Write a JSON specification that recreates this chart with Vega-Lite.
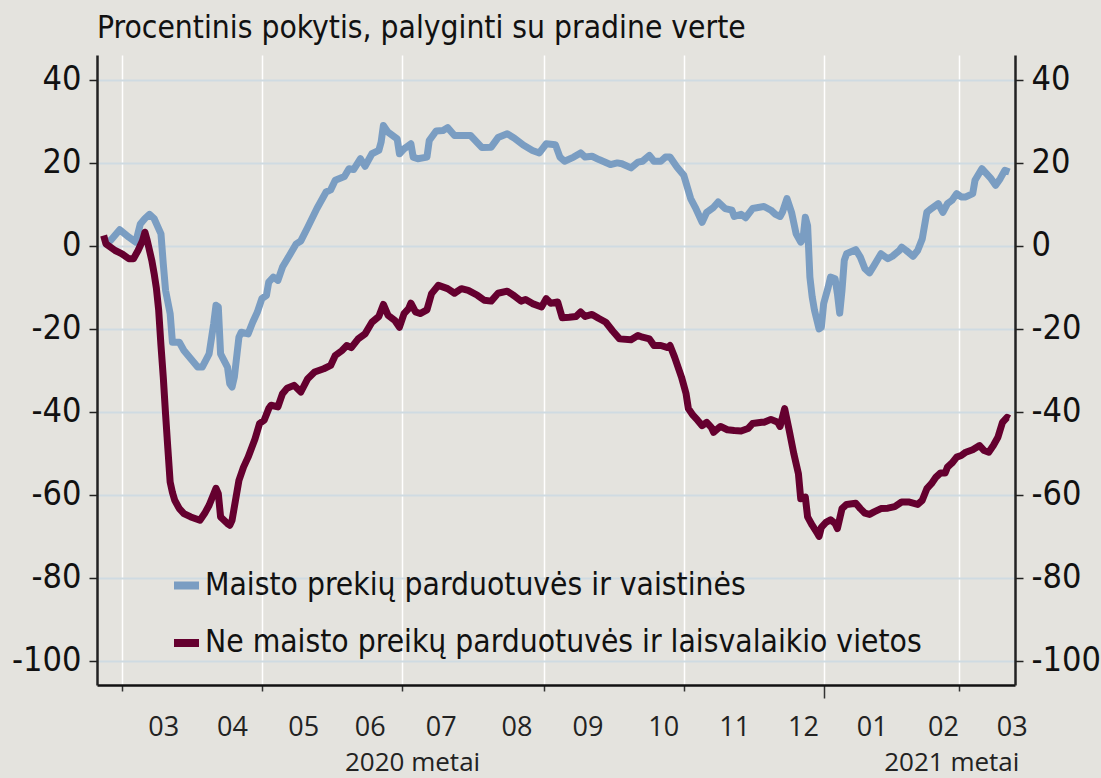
{
  "$schema": "https://vega.github.io/schema/vega-lite/v6.json",
  "width": 918,
  "height": 630,
  "autosize": {"type": "none"},
  "padding": {"left": 97, "top": 55, "right": 86, "bottom": 93},
  "background": "#e4e3de",
  "config": {"view": {"stroke": null}},
  "title": {
    "text": "Procentinis pokytis, palyginti su pradine verte",
    "anchor": "start",
    "frame": "group",
    "baseline": "top",
    "offset": 11,
    "font": "DejaVu Sans Condensed",
    "fontSize": 31.5,
    "fontWeight": "normal",
    "color": "#111111"
  },
  "datasets": {
    "food": [
      {"d":"2020-02-22","v":0.9},{"d":"2020-02-25","v":1.3},{"d":"2020-02-29","v":3.9},{"d":"2020-03-04","v":2.1},
      {"d":"2020-03-07","v":0.9},{"d":"2020-03-09","v":5.3},{"d":"2020-03-11","v":6.6},{"d":"2020-03-13","v":7.6},
      {"d":"2020-03-15","v":6.6},{"d":"2020-03-18","v":2.9},{"d":"2020-03-19","v":-4.3},{"d":"2020-03-20","v":-10.7},
      {"d":"2020-03-22","v":-16.3},{"d":"2020-03-23","v":-23.2},{"d":"2020-03-26","v":-23.2},{"d":"2020-03-28","v":-25.2},
      {"d":"2020-03-31","v":-27.2},{"d":"2020-04-03","v":-29.2},{"d":"2020-04-05","v":-29.2},{"d":"2020-04-08","v":-26},
      {"d":"2020-04-10","v":-18.7},{"d":"2020-04-11","v":-14.3},{"d":"2020-04-12","v":-14.7},{"d":"2020-04-13","v":-26},
      {"d":"2020-04-16","v":-29.2},{"d":"2020-04-17","v":-33.2},{"d":"2020-04-18","v":-34},{"d":"2020-04-19","v":-31.6},
      {"d":"2020-04-21","v":-22},{"d":"2020-04-22","v":-20.8},{"d":"2020-04-25","v":-21.2},{"d":"2020-04-27","v":-18.4},
      {"d":"2020-04-29","v":-16},{"d":"2020-05-01","v":-12.7},{"d":"2020-05-03","v":-11.9},{"d":"2020-05-04","v":-8.7},
      {"d":"2020-05-06","v":-7.5},{"d":"2020-05-08","v":-8.3},{"d":"2020-05-10","v":-5.1},{"d":"2020-05-13","v":-2.3},
      {"d":"2020-05-16","v":0.5},{"d":"2020-05-18","v":1.2},{"d":"2020-05-21","v":4.5},{"d":"2020-05-25","v":9.0},
      {"d":"2020-05-29","v":13.0},{"d":"2020-05-31","v":13.5},{"d":"2020-06-02","v":15.8},{"d":"2020-06-06","v":16.7},
      {"d":"2020-06-08","v":18.6},{"d":"2020-06-10","v":18.4},{"d":"2020-06-13","v":21.0},{"d":"2020-06-15","v":19.2},
      {"d":"2020-06-18","v":22.2},{"d":"2020-06-21","v":23.0},{"d":"2020-06-22","v":25.0},{"d":"2020-06-23","v":29.0},
      {"d":"2020-06-25","v":27.4},{"d":"2020-06-29","v":25.8},{"d":"2020-06-30","v":22.2},{"d":"2020-07-02","v":23.4},
      {"d":"2020-07-05","v":24.6},{"d":"2020-07-06","v":21.4},{"d":"2020-07-08","v":21.0},{"d":"2020-07-12","v":21.4},
      {"d":"2020-07-13","v":25.4},{"d":"2020-07-16","v":27.7},{"d":"2020-07-19","v":27.8},{"d":"2020-07-21","v":28.5},
      {"d":"2020-07-24","v":26.6},{"d":"2020-07-29","v":26.6},{"d":"2020-07-31","v":26.6},{"d":"2020-08-05","v":23.7},
      {"d":"2020-08-09","v":23.8},{"d":"2020-08-12","v":26.1},{"d":"2020-08-16","v":27.0},{"d":"2020-08-19","v":26.0},
      {"d":"2020-08-23","v":24.3},{"d":"2020-08-27","v":23.0},{"d":"2020-08-30","v":22.4},{"d":"2020-09-02","v":24.6},
      {"d":"2020-09-06","v":24.4},{"d":"2020-09-08","v":21.4},{"d":"2020-09-10","v":20.4},{"d":"2020-09-14","v":21.4},
      {"d":"2020-09-17","v":22.4},{"d":"2020-09-19","v":21.4},{"d":"2020-09-22","v":21.6},{"d":"2020-09-25","v":20.8},
      {"d":"2020-09-30","v":19.6},{"d":"2020-10-03","v":20.0},{"d":"2020-10-05","v":19.8},{"d":"2020-10-09","v":18.8},
      {"d":"2020-10-12","v":20.2},{"d":"2020-10-14","v":20.4},{"d":"2020-10-17","v":21.8},{"d":"2020-10-19","v":20.4},
      {"d":"2020-10-22","v":20.4},{"d":"2020-10-24","v":21.4},{"d":"2020-10-26","v":21.4},{"d":"2020-10-29","v":19.0},
      {"d":"2020-11-01","v":17.0},{"d":"2020-11-04","v":11.4},{"d":"2020-11-06","v":9.3},{"d":"2020-11-09","v":5.7},
      {"d":"2020-11-11","v":8.1},{"d":"2020-11-14","v":9.3},{"d":"2020-11-16","v":10.6},{"d":"2020-11-19","v":9.0},
      {"d":"2020-11-22","v":8.6},{"d":"2020-11-23","v":7.1},{"d":"2020-11-26","v":7.6},{"d":"2020-11-28","v":6.8},
      {"d":"2020-12-01","v":9.0},{"d":"2020-12-06","v":9.5},{"d":"2020-12-09","v":8.6},{"d":"2020-12-11","v":7.6},
      {"d":"2020-12-13","v":7.1},{"d":"2020-12-14","v":8.1},{"d":"2020-12-16","v":11.4},{"d":"2020-12-18","v":8.1},
      {"d":"2020-12-20","v":2.9},{"d":"2020-12-22","v":0.9},{"d":"2020-12-23","v":1.7},{"d":"2020-12-24","v":6.9},
      {"d":"2020-12-25","v":4.9},{"d":"2020-12-26","v":-7.5},{"d":"2020-12-27","v":-12.3},{"d":"2020-12-28","v":-15.5},
      {"d":"2020-12-30","v":-20.0},{"d":"2020-12-31","v":-19.6},{"d":"2021-01-01","v":-13.9},{"d":"2021-01-03","v":-9.9},
      {"d":"2021-01-04","v":-7.5},{"d":"2021-01-06","v":-7.9},{"d":"2021-01-07","v":-11.5},{"d":"2021-01-08","v":-16.2},
      {"d":"2021-01-09","v":-10.7},{"d":"2021-01-10","v":-3.5},{"d":"2021-01-11","v":-1.9},{"d":"2021-01-15","v":-0.9},
      {"d":"2021-01-17","v":-2.7},{"d":"2021-01-19","v":-5.5},{"d":"2021-01-21","v":-6.5},{"d":"2021-01-23","v":-4.7},
      {"d":"2021-01-26","v":-1.9},{"d":"2021-01-29","v":-3.1},{"d":"2021-01-31","v":-2.5},{"d":"2021-02-03","v":-1.1},
      {"d":"2021-02-04","v":-0.3},{"d":"2021-02-06","v":-1.1},{"d":"2021-02-09","v":-2.5},{"d":"2021-02-11","v":-1.1},
      {"d":"2021-02-13","v":1.7},{"d":"2021-02-15","v":8.1},{"d":"2021-02-17","v":9.0},{"d":"2021-02-20","v":10.2},
      {"d":"2021-02-22","v":8.1},{"d":"2021-02-24","v":10.2},{"d":"2021-02-26","v":11.0},{"d":"2021-02-28","v":12.6},
      {"d":"2021-03-02","v":11.8},{"d":"2021-03-04","v":11.8},{"d":"2021-03-07","v":12.6},{"d":"2021-03-08","v":15.8},
      {"d":"2021-03-11","v":18.6},{"d":"2021-03-13","v":17.4},{"d":"2021-03-15","v":16.2},{"d":"2021-03-17","v":14.6},
      {"d":"2021-03-19","v":16.2},{"d":"2021-03-21","v":18.2},{"d":"2021-03-23","v":17.8}
    ],
    "nonfood": [
      {"d":"2020-02-22","v":2.5},{"d":"2020-02-23","v":0.5},{"d":"2020-02-27","v":-1.1},{"d":"2020-03-01","v":-1.9},
      {"d":"2020-03-04","v":-3.1},{"d":"2020-03-06","v":-3.1},{"d":"2020-03-08","v":-1.1},{"d":"2020-03-10","v":1.3},
      {"d":"2020-03-11","v":3.3},{"d":"2020-03-12","v":1.3},{"d":"2020-03-14","v":-3.5},{"d":"2020-03-15","v":-6.6},
      {"d":"2020-03-16","v":-10.2},{"d":"2020-03-17","v":-15.5},{"d":"2020-03-18","v":-24},{"d":"2020-03-19","v":-31.6},
      {"d":"2020-03-20","v":-40.5},{"d":"2020-03-21","v":-48.8},{"d":"2020-03-22","v":-56.9},{"d":"2020-03-23","v":-59.4},
      {"d":"2020-03-24","v":-61.3},{"d":"2020-03-26","v":-63.3},{"d":"2020-03-28","v":-64.5},{"d":"2020-03-31","v":-65.3},
      {"d":"2020-04-04","v":-66.1},{"d":"2020-04-06","v":-64.5},{"d":"2020-04-08","v":-62.5},{"d":"2020-04-11","v":-58.4},
      {"d":"2020-04-12","v":-59.7},{"d":"2020-04-13","v":-65.3},{"d":"2020-04-16","v":-66.9},{"d":"2020-04-17","v":-67.3},
      {"d":"2020-04-18","v":-66.1},{"d":"2020-04-21","v":-56.5},{"d":"2020-04-23","v":-53.3},{"d":"2020-04-25","v":-50.9},
      {"d":"2020-04-28","v":-46.5},{"d":"2020-04-30","v":-42.8},{"d":"2020-05-02","v":-42.0},{"d":"2020-05-04","v":-39.2},
      {"d":"2020-05-05","v":-38.4},{"d":"2020-05-08","v":-38.8},{"d":"2020-05-10","v":-35.6},{"d":"2020-05-12","v":-34.3},
      {"d":"2020-05-15","v":-33.6},{"d":"2020-05-18","v":-35.2},{"d":"2020-05-21","v":-32.0},{"d":"2020-05-24","v":-30.4},
      {"d":"2020-05-28","v":-29.6},{"d":"2020-05-31","v":-28.8},{"d":"2020-06-02","v":-26.4},{"d":"2020-06-05","v":-25.2},
      {"d":"2020-06-07","v":-24.0},{"d":"2020-06-09","v":-24.5},{"d":"2020-06-12","v":-22.4},{"d":"2020-06-15","v":-21.2},
      {"d":"2020-06-18","v":-18.4},{"d":"2020-06-21","v":-17.0},{"d":"2020-06-23","v":-14.1},{"d":"2020-06-25","v":-16.7},
      {"d":"2020-06-28","v":-18.0},{"d":"2020-06-30","v":-19.6},{"d":"2020-07-02","v":-16.3},{"d":"2020-07-04","v":-15.1},
      {"d":"2020-07-05","v":-13.8},{"d":"2020-07-07","v":-15.9},{"d":"2020-07-09","v":-16.3},{"d":"2020-07-12","v":-15.4},
      {"d":"2020-07-14","v":-11.5},{"d":"2020-07-17","v":-9.5},{"d":"2020-07-21","v":-10.3},{"d":"2020-07-24","v":-11.4},
      {"d":"2020-07-27","v":-10.3},{"d":"2020-07-30","v":-10.7},{"d":"2020-08-03","v":-11.9},{"d":"2020-08-06","v":-13.1},
      {"d":"2020-08-09","v":-13.3},{"d":"2020-08-12","v":-11.4},{"d":"2020-08-16","v":-10.9},{"d":"2020-08-19","v":-12.0},
      {"d":"2020-08-22","v":-13.3},{"d":"2020-08-24","v":-12.9},{"d":"2020-08-27","v":-13.9},{"d":"2020-08-31","v":-14.7},
      {"d":"2020-09-02","v":-12.7},{"d":"2020-09-04","v":-13.8},{"d":"2020-09-07","v":-13.5},{"d":"2020-09-09","v":-17.3},
      {"d":"2020-09-12","v":-17.2},{"d":"2020-09-15","v":-17.0},{"d":"2020-09-17","v":-15.9},{"d":"2020-09-19","v":-17.0},
      {"d":"2020-09-22","v":-16.5},{"d":"2020-09-25","v":-17.5},{"d":"2020-09-28","v":-18.4},{"d":"2020-10-01","v":-20.5},
      {"d":"2020-10-04","v":-22.4},{"d":"2020-10-09","v":-22.6},{"d":"2020-10-12","v":-21.6},{"d":"2020-10-14","v":-22.0},
      {"d":"2020-10-17","v":-22.4},{"d":"2020-10-19","v":-24.0},{"d":"2020-10-22","v":-24.0},{"d":"2020-10-25","v":-24.5},
      {"d":"2020-10-26","v":-24.0},{"d":"2020-10-28","v":-26.8},{"d":"2020-10-31","v":-31.6},{"d":"2020-11-02","v":-35.6},
      {"d":"2020-11-03","v":-39.2},{"d":"2020-11-05","v":-40.8},{"d":"2020-11-07","v":-42.0},{"d":"2020-11-09","v":-43.3},
      {"d":"2020-11-11","v":-42.5},{"d":"2020-11-13","v":-43.7},{"d":"2020-11-14","v":-44.9},{"d":"2020-11-17","v":-43.5},
      {"d":"2020-11-20","v":-44.3},{"d":"2020-11-23","v":-44.5},{"d":"2020-11-26","v":-44.6},{"d":"2020-11-29","v":-44.0},
      {"d":"2020-12-01","v":-42.8},{"d":"2020-12-05","v":-42.5},{"d":"2020-12-06","v":-42.5},{"d":"2020-12-09","v":-41.8},
      {"d":"2020-12-12","v":-42.5},{"d":"2020-12-13","v":-43.5},{"d":"2020-12-15","v":-39.2},{"d":"2020-12-17","v":-44.5},
      {"d":"2020-12-19","v":-50.1},{"d":"2020-12-21","v":-54.9},{"d":"2020-12-22","v":-60.9},{"d":"2020-12-24","v":-60.5},
      {"d":"2020-12-25","v":-65.3},{"d":"2020-12-27","v":-67.3},{"d":"2020-12-29","v":-69.0},{"d":"2020-12-30","v":-70.0},
      {"d":"2020-12-31","v":-67.8},{"d":"2021-01-02","v":-66.6},{"d":"2021-01-04","v":-66.0},{"d":"2021-01-06","v":-66.9},
      {"d":"2021-01-07","v":-68.1},{"d":"2021-01-09","v":-63.3},{"d":"2021-01-11","v":-62.3},{"d":"2021-01-15","v":-62.0},
      {"d":"2021-01-17","v":-63.3},{"d":"2021-01-19","v":-64.4},{"d":"2021-01-21","v":-64.7},{"d":"2021-01-23","v":-64.1},
      {"d":"2021-01-26","v":-63.3},{"d":"2021-01-29","v":-63.2},{"d":"2021-02-01","v":-62.8},{"d":"2021-02-04","v":-61.7},
      {"d":"2021-02-07","v":-61.7},{"d":"2021-02-11","v":-62.3},{"d":"2021-02-13","v":-61.3},{"d":"2021-02-15","v":-58.5},
      {"d":"2021-02-17","v":-57.3},{"d":"2021-02-19","v":-55.7},{"d":"2021-02-21","v":-54.7},{"d":"2021-02-23","v":-54.7},
      {"d":"2021-02-24","v":-53.3},{"d":"2021-02-26","v":-52.3},{"d":"2021-02-28","v":-50.9},{"d":"2021-03-02","v":-50.5},
      {"d":"2021-03-04","v":-49.7},{"d":"2021-03-07","v":-49.1},{"d":"2021-03-10","v":-48.1},{"d":"2021-03-12","v":-49.3},
      {"d":"2021-03-14","v":-49.7},{"d":"2021-03-16","v":-48.1},{"d":"2021-03-18","v":-46.1},{"d":"2021-03-20","v":-42.5},
      {"d":"2021-03-22","v":-41.3},{"d":"2021-03-23","v":-41.6}
    ]
  },
  "resolve": {"axis": {"x": "independent", "y": "independent"}},
  "layer": [
    {
      "data": {"name": "food"},
      "mark": {"type": "line", "strokeWidth": 7, "strokeJoin": "round"},
      "encoding": {
        "x": {
          "field": "d", "type": "temporal",
          "scale": {"domain": [
            {"year": 2020, "month": 2, "date": 19, "hours": 2, "minutes": 24, "utc": true},
            {"year": 2021, "month": 3, "date": 25, "hours": 10, "minutes": 48, "utc": true}
          ]},
          "axis": {
            "orient": "bottom", "title": null, "labels": false,
            "values": [
              {"year": 2020, "month": 3, "date": 1, "utc": true},
              {"year": 2020, "month": 5, "date": 1, "utc": true},
              {"year": 2020, "month": 7, "date": 1, "utc": true},
              {"year": 2020, "month": 9, "date": 1, "utc": true},
              {"year": 2020, "month": 11, "date": 1, "utc": true},
              {"year": 2021, "month": 1, "date": 1, "utc": true},
              {"year": 2021, "month": 3, "date": 1, "utc": true}
            ],
            "grid": true, "gridColor": "#ffffff", "gridWidth": 1.5,
            "tickColor": "#333333", "tickWidth": 1.5,
            "tickSize": {"condition": {"test": "utcmonth(datum.value) == 0", "value": 13}, "value": 6},
            "domainColor": "#111111", "domainWidth": 2.5
          }
        },
        "y": {
          "field": "v", "type": "quantitative",
          "scale": {"domain": [-105.8, 46], "nice": false, "zero": false},
          "axis": {
            "orient": "left", "title": null,
            "values": [-100, -80, -60, -40, -20, 0, 20, 40],
            "labelExpr": "'' + datum.value",
            "grid": true, "gridColor": "#cfdbe2", "gridWidth": 2,
            "tickSize": 8, "tickColor": "#222222", "tickWidth": 1.5,
            "domainColor": "#222222", "domainWidth": 2.5,
            "labelFont": "DejaVu Sans Condensed", "labelFontSize": 34, "labelColor": "#111111", "labelPadding": 8
          }
        },
        "color": {
          "datum": "Maisto prekių parduotuvės ir vaistinės",
          "scale": {
            "domain": ["Maisto prekių parduotuvės ir vaistinės", "Ne maisto preikų parduotuvės ir laisvalaikio vietos"],
            "range": ["#7a9dc2", "#65002f"]
          },
          "legend": {
            "orient": "none", "legendX": 73, "legendY": 514, "title": null, "padding": 0,
            "symbolType": "stroke", "symbolStrokeWidth": 8, "symbolSize": 625,
            "labelFont": "DejaVu Sans Condensed", "labelFontSize": 31.5, "labelColor": "#111111",
            "labelLimit": 1000, "rowPadding": 24.5, "labelOffset": 2
          }
        }
      }
    },
    {
      "data": {"name": "nonfood"},
      "mark": {"type": "line", "strokeWidth": 7, "strokeJoin": "round"},
      "encoding": {
        "x": {
          "field": "d", "type": "temporal",
          "axis": {
            "orient": "bottom", "title": null, "grid": false, "ticks": false, "domain": false,
            "values": [
              {"year": 2020, "month": 3, "date": 19, "utc": true},
              {"year": 2020, "month": 4, "date": 18, "utc": true},
              {"year": 2020, "month": 5, "date": 19, "utc": true},
              {"year": 2020, "month": 6, "date": 17, "utc": true},
              {"year": 2020, "month": 7, "date": 18, "utc": true},
              {"year": 2020, "month": 8, "date": 20, "utc": true},
              {"year": 2020, "month": 9, "date": 20, "utc": true},
              {"year": 2020, "month": 10, "date": 23, "utc": true},
              {"year": 2020, "month": 11, "date": 23, "utc": true},
              {"year": 2020, "month": 12, "date": 23, "utc": true},
              {"year": 2021, "month": 1, "date": 22, "utc": true},
              {"year": 2021, "month": 2, "date": 22, "utc": true},
              {"year": 2021, "month": 3, "date": 24, "utc": true}
            ],
            "labelExpr": "utcFormat(datum.value, '%m')",
            "labelFont": "Open Sans", "labelFontSize": 27, "labelColor": "#222222",
            "labelPadding": 29, "labelOverlap": false, "labelFlush": false
          }
        },
        "y": {
          "field": "v", "type": "quantitative",
          "axis": {
            "orient": "right", "title": null, "grid": false,
            "values": [-100, -80, -60, -40, -20, 0, 20, 40],
            "labelExpr": "'' + datum.value",
            "tickSize": 8, "tickColor": "#222222", "tickWidth": 1.5,
            "domainColor": "#222222", "domainWidth": 2.5,
            "labelFont": "DejaVu Sans Condensed", "labelFontSize": 34, "labelColor": "#111111", "labelPadding": 8
          }
        },
        "color": {"datum": "Ne maisto preikų parduotuvės ir laisvalaikio vietos"}
      }
    },
    {
      "data": {"name": "food"},
      "mark": {"type": "line", "opacity": 0},
      "encoding": {
        "x": {
          "field": "d", "type": "temporal",
          "axis": {
            "orient": "bottom", "title": null, "grid": false, "ticks": false, "domain": false,
            "values": [
              {"year": 2020, "month": 7, "date": 5, "hours": 12, "utc": true},
              {"year": 2021, "month": 2, "date": 25, "hours": 16, "utc": true}
            ],
            "labelExpr": "utcFormat(datum.value, '%Y') + ' metai'",
            "labelFont": "Open Sans", "labelFontSize": 26, "labelColor": "#222222",
            "labelPadding": 64, "labelOverlap": false, "labelFlush": false
          }
        },
        "y": {"field": "v", "type": "quantitative", "axis": null}
      }
    }
  ]
}
